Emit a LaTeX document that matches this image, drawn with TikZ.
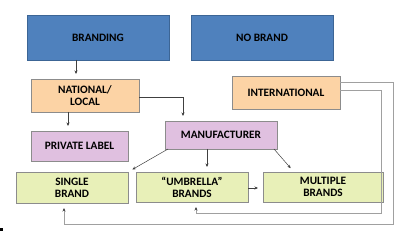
\documentclass[tikz,border=0pt]{standalone}
\usepackage{fontspec}
\setmainfont{Carlito}[BoldFont={Carlito Bold}]
\usetikzlibrary{arrows.meta,calc}
\definecolor{bluebox}{HTML}{4F81BD}
\definecolor{blueedge}{HTML}{3C6595}
\definecolor{orangebox}{HTML}{FCD3A5}
\definecolor{purplebox}{HTML}{E0C0E0}
\definecolor{greenbox}{HTML}{E8F0B8}
\definecolor{edgegray}{HTML}{8C8C8C}
\definecolor{arrgray}{HTML}{404040}
\definecolor{linegray}{HTML}{A0A0A0}
\tikzset{
  box/.style={draw=edgegray, line width=0.8pt, inner sep=0pt, outer sep=0pt, align=center,
    font=\fontsize{11.3}{12}\selectfont\bfseries, text=black},
  bluebx/.style={box, fill=bluebox, draw=blueedge},
  orangebx/.style={box, fill=orangebox},
  purplebx/.style={box, fill=purplebox},
  greenbx/.style={box, fill=greenbox},
  arr/.style={draw=arrgray, line width=0.5pt, -{Stealth[length=3.5pt,width=3pt]}, shorten >=5pt},
  grayarr/.style={draw=linegray, line width=0.7pt, -{Stealth[length=3.5pt,width=3pt,color=arrgray]}, shorten >=5pt}
}
\begin{document}
\begin{tikzpicture}[x=1pt,y=-1pt]
\useasboundingbox (0,0) rectangle (400,232);
\node[bluebx, minimum width=142pt, minimum height=45pt] (brand) at (98,37.5) {BRANDING};
\node[bluebx, minimum width=142pt, minimum height=45pt] (nobrand) at (262,37.5) {NO BRAND};
\node[orangebx, minimum width=108pt, minimum height=33pt] (nat) at (85,95.5) {NATIONAL/\\LOCAL};
\node[orangebx, minimum width=108pt, minimum height=33pt] (intl) at (286,92.5) {INTERNATIONAL};
\node[purplebx, minimum width=97pt, minimum height=30pt] (priv) at (79.5,146) {PRIVATE LABEL};
\node[purplebx, minimum width=112pt, minimum height=28pt] (manu) at (221,135) {MANUFACTURER};
\node[greenbx, minimum width=112pt, minimum height=31pt] (single) at (72,187.5) {SINGLE\\BRAND};
\node[greenbx, minimum width=112pt, minimum height=30pt] (umb) at (192,187) {``UMBRELLA''\\BRANDS};
\node[greenbx, minimum width=120pt, minimum height=30pt] (multi) at (323,187) {MULTIPLE\\BRANDS};
% columns / rows for connectors
\coordinate (c76) at (76,0);
\coordinate (c68) at (68,0);
\coordinate (c183) at (183,0);
\coordinate (c207) at (207,0);
\coordinate (c64) at (64,0);
\coordinate (c196) at (196,0);
\coordinate (r97) at (0,97);
\coordinate (r188) at (0,188);
\coordinate (r82) at (0,82);
\coordinate (r90) at (0,90);
\coordinate (o1) at (393,224);
\coordinate (o2) at (381,213);
\coordinate (m1) at (168,149);
\coordinate (m2) at (274,149);
\coordinate (s1) at (128,172);
\coordinate (t1) at (294,172);
\draw[arr] (brand.south -| c76) -- (nat.north -| c76);
\draw[arr] (nat.south -| c68) -- (priv.north -| c68);
\draw[arr] (nat.east |- r97) -| (manu.north -| c183);
\draw[arr] (manu.south -| c207) -- (umb.north -| c207);
\draw[arr] (m1) -- (s1);
\draw[arr] (m2) -- (t1);
\draw[arr] (umb.east |- r188) -- (multi.west |- r188);
\draw[grayarr] (intl.east |- r82) -| (o1) -| (single.south -| c64);
\draw[grayarr] (intl.east |- r90) -| (o2) -| (umb.south -| c196);
\fill[black] (0,228) rectangle (2.5,231);
\end{tikzpicture}
\end{document}
